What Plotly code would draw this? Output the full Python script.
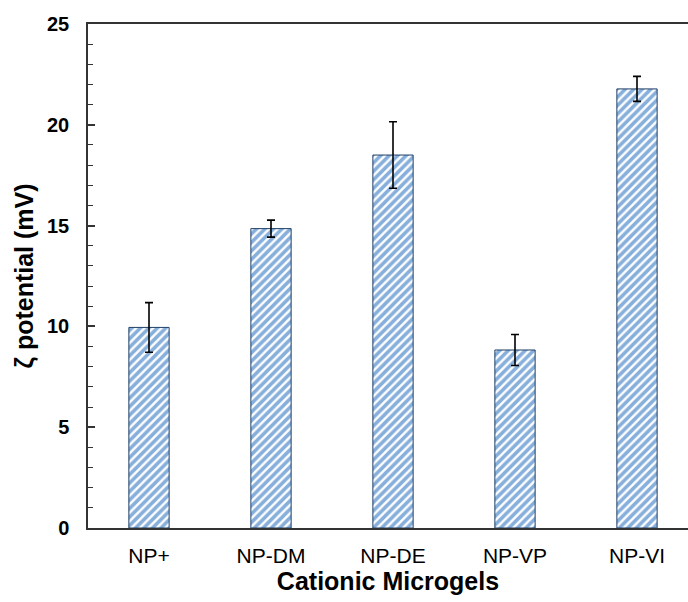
import plotly.graph_objects as go

# Zeta potential of the cationic microgels
categories = ["NP+", "NP-DM", "NP-DE", "NP-VP", "NP-VI"]
zeta_mv = [9.95, 14.85, 18.5, 8.83, 21.78]
zeta_err = [1.23, 0.42, 1.65, 0.77, 0.62]
y_ticks = [0, 5, 10, 15, 20, 25]

fig = go.Figure()
fig.add_trace(go.Bar(
    x=list(range(len(categories))),
    y=zeta_mv,
    width=0.33,
    marker=dict(
        color="white",
        line=dict(color="#1f3f66", width=1),
        pattern=dict(shape="/", fgcolor="#0f5fb8", bgcolor="white",
                     size=6, solidity=0.6),
    ),
    error_y=dict(type="data", array=zeta_err, visible=True,
                 color="black", thickness=1.6, width=4),
))

fig.update_layout(
    width=688, height=602,
    margin=dict(l=88, r=0, t=24, b=74),
    paper_bgcolor="white", plot_bgcolor="white",
    showlegend=False,
    font=dict(family="Liberation Sans, Arial, sans-serif", color="black"),
    xaxis=dict(
        tickmode="array",
        tickvals=list(range(len(categories))),
        ticktext=categories,
        range=[-0.5, -0.5 + 600 / 122],
        showline=True, linecolor="#333", linewidth=1.5, mirror=True,
        ticks="", showgrid=False, zeroline=False,
        tickfont=dict(size=21), ticklabelstandoff=8,
        title=dict(text="<b>Cationic Microgels</b>", font=dict(size=25), standoff=1),
    ),
    yaxis=dict(
        range=[0, 25],
        tickmode="array", tickvals=y_ticks,
        ticktext=[f"<b>{v}</b>" for v in y_ticks],
        showline=True, linecolor="#333", linewidth=1.5, mirror=False,
        ticks="inside", ticklen=7, tickwidth=1.5, tickcolor="#333",
        minor=dict(dtick=1, ticks="inside", ticklen=5, tickwidth=1.2, tickcolor="#333"),
        showgrid=False, zeroline=False,
        tickfont=dict(size=20), ticklabelstandoff=13,
        title=dict(text="<b>ζ potential (mV)</b>", font=dict(size=25), standoff=6),
    ),
)

fig.write_html("out.html")
